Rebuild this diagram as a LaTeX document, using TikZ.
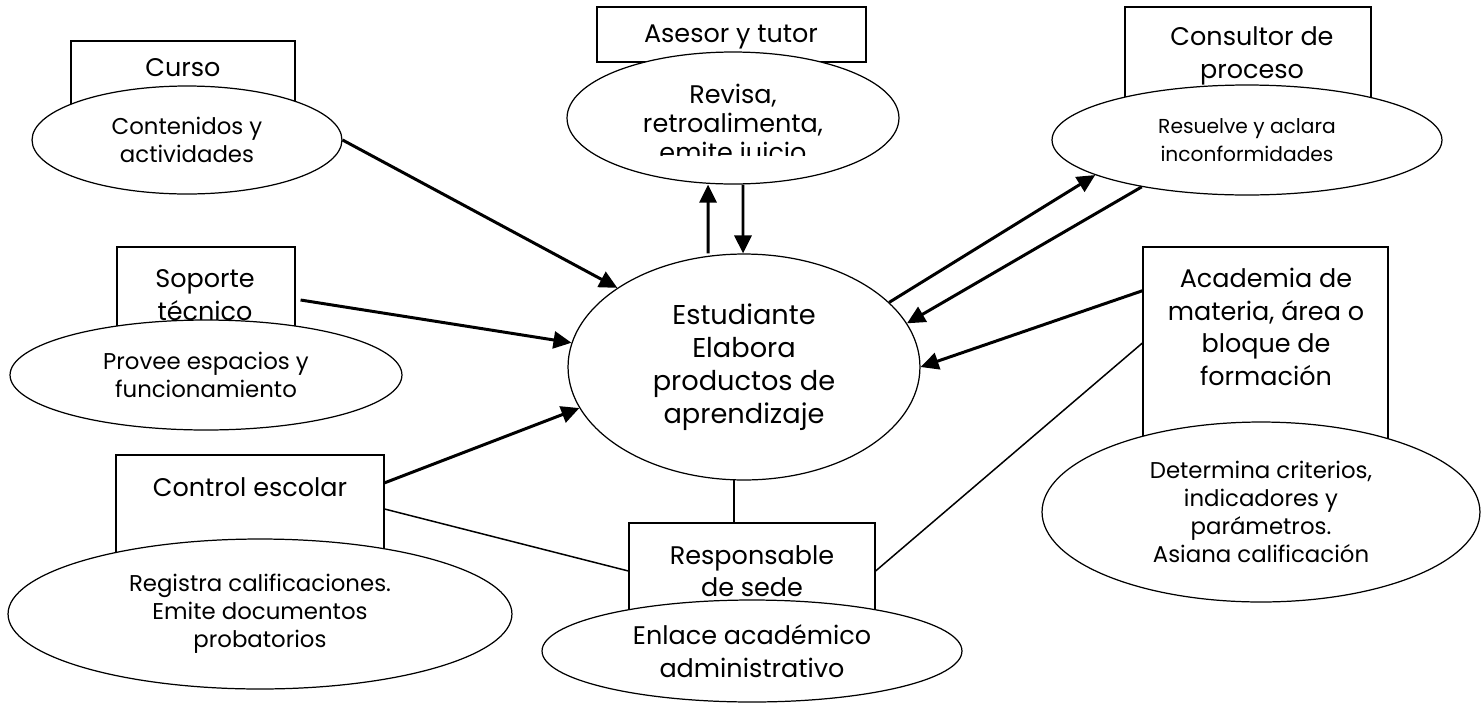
\documentclass[tikz,border=0pt]{standalone}
\usepackage{fontspec}
\setmainfont{Poppins}
\usetikzlibrary{shapes.geometric,arrows.meta}

\begin{document}
\begin{tikzpicture}[x=0.02cm, y=-0.02cm,
    box/.style={draw, line width=0.7pt, inner sep=0pt},
    oval/.style={ellipse, draw, fill=white, line width=0.7pt, inner sep=0pt, align=center},
    big/.style={font=\fontsize{14.5}{18.5}\selectfont, align=center},
    small/.style={font=\fontsize{13}{16}\selectfont, align=center},
    arrow/.style={-{Triangle[length=0.36cm,width=0.34cm]}, line width=1.7pt},
    link/.style={line width=0.85pt}]

    \useasboundingbox (0,0) rectangle (1482,704);

    % boxes (their lower part hides behind the ellipses)
    \node[box, minimum width=4.48cm, minimum height=1.96cm] (CursoBox) at (183,90) {};
    \node[box, minimum width=5.38cm, minimum height=1.10cm] (AsesorBox) at (731.5,34.5) {};
    \node[box, minimum width=4.92cm, minimum height=2.40cm] (ConsultorBox) at (1248,67) {};
    \node[box, minimum width=3.56cm, minimum height=2.12cm] (SoporteBox) at (206,300) {};
    \node[box, minimum width=5.36cm, minimum height=2.16cm] (ControlBox) at (250,509) {};
    \node[box, minimum width=4.92cm, minimum height=1.92cm] (ResponsableBox) at (752,571) {};
    \node[box, minimum width=4.90cm, minimum height=3.84cm] (AcademiaBox) at (1265.5,343) {};

    \node[big] (Curso) at (183,68) {Curso};
    \node[big] (Asesor) at (731,37) {Asesor y tutor};
    \node[big] (Consultor) at (1252,56) {Consultor de\\proceso};
    \node[big] (Soporte) at (205,295) {Soporte\\técnico};
    \node[big] (Control) at (250,487) {Control escolar};
    \node[big] (Responsable) at (752,571) {Responsable\\de sede};
    \node[big] (Academia) at (1266,327) {Academia de\\materia, área o\\bloque de\\formación};

    % ellipses
    \node[oval, small, minimum width=6.20cm, minimum height=2.16cm] (Contenidos) at (187,140) {Contenidos y\\actividades};
    \node[oval, minimum width=6.64cm, minimum height=2.64cm] (Revisa) at (733,118) {};
    \node[oval, font=\fontsize{11.5}{16}\selectfont, minimum width=7.80cm, minimum height=2.20cm] (Resuelve) at (1247,140) {Resuelve y aclara\\inconformidades};
    \node[oval, small, minimum width=7.84cm, minimum height=2.20cm] (Provee) at (206,375) {Provee espacios y\\funcionamiento};
    \node[oval, font=\fontsize{15.5}{18.8}\selectfont, minimum width=7.04cm, minimum height=4.52cm] (Estudiante) at (744,367) {Estudiante\\Elabora\\productos de\\aprendizaje};
    \node[oval, small, minimum width=10.08cm, minimum height=3.00cm] (Registra) at (260,614) {Registra calificaciones.\\Emite documentos\\probatorios};
    \node[oval, big, minimum width=8.40cm, minimum height=2.04cm] (Enlace) at (752,651) {Enlace académico\\administrativo};
    \node[oval, small, minimum width=8.76cm, minimum height=3.60cm] (Determina) at (1261,512) {Determina criterios,\\indicadores y\\parámetros.\\Asiana calificación};

    \begin{scope}
        \clip (560,40) rectangle (900,155);
        \node[align=center, font=\fontsize{14.5}{16.5}\selectfont] (RevisaTxt) at (733,126) {Revisa,\\retroalimenta,\\emite juicio};
    \end{scope}

    % connectors
    \draw[arrow] (Contenidos.east) -- (Estudiante.148);
    \draw[arrow] ([xshift=0.1cm]SoporteBox.east) -- (Estudiante.172);
    \draw[arrow] (ControlBox.11) -- (Estudiante.194);
    \draw[arrow] ([xshift=-0.72cm]Estudiante.north) -- ([xshift=-0.5cm]Revisa.south);
    \draw[arrow] ([xshift=0.2cm]Revisa.south) -- ([xshift=-0.02cm]Estudiante.north);
    \draw[arrow] (Estudiante.24) -- (Resuelve.193);
    \draw[arrow] (Resuelve.204) -- (Estudiante.15);
    \draw[arrow] (AcademiaBox.157) -- (Estudiante.east);
    \draw[link] (ControlBox.east) -- (ResponsableBox.west);
    \draw[link] (AcademiaBox.west) -- (ResponsableBox.east);
    \draw[link] (Estudiante.265) -- (Estudiante.265 |- ResponsableBox.north);
\end{tikzpicture}
\end{document}
